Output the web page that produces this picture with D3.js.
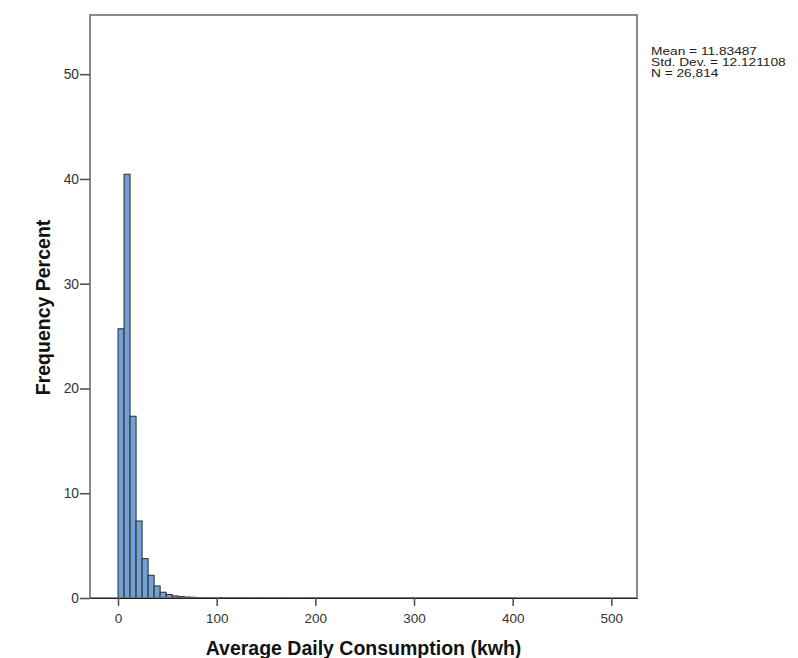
<!DOCTYPE html>
<html>
<head>
<meta charset="utf-8">
<script src="https://cdn.jsdelivr.net/npm/d3@7"></script>
<style>
  html, body { margin: 0; padding: 0; background: #fff; }
  svg { display: block; }
</style>
</head>
<body>
<svg id="chart" width="798" height="658"></svg>
<script>
// Histogram of average daily consumption (kWh), bin width ~6.1 kWh
const binWidth = 6.1;
const binPercent = [
  25.7, 40.45, 17.35, 7.35, 3.76, 2.17, 1.15, 0.55, 0.33, 0.2,
  0.13, 0.09, 0.07, 0.05, 0.04, 0.035, 0.03, 0.025, 0.02, 0.018,
  0.016, 0.014, 0.012, 0.011, 0.01, 0.01, 0.009, 0.008, 0.008, 0.007,
  0.007, 0.006, 0.006, 0.005, 0.005, 0.005, 0.004, 0.004, 0.004, 0.004,
  0.004, 0.003, 0.003, 0.003, 0.003, 0.003, 0.003, 0.003, 0.003, 0.003,
  0.003, 0.003, 0.003, 0.003, 0.003, 0.003, 0.003, 0.003, 0.003, 0.003,
  0.003, 0.003, 0.003, 0.003, 0.003, 0.003
];
const xTicks = [0, 100, 200, 300, 400, 500];
const yTicks = [0, 10, 20, 30, 40, 50];
const statLines = ["Mean = 11.83487", "Std. Dev. = 12.121108", "N = 26,814"];
const xTitle = "Average Daily Consumption (kwh)";
const yTitle = "Frequency Percent";

const svg = d3.select("#chart");
const frame = { left: 90, right: 637, top: 15, bottom: 598 };

const x = d3.scaleLinear().domain([-28.4, 526]).range([frame.left, frame.right]);
const y = d3.scaleLinear().domain([0, 55.65]).range([frame.bottom, frame.top]);

const font = "'Liberation Sans', Arial, sans-serif";

// Bars
const bins = binPercent.map((v, i) => ({ x0: i * binWidth, x1: (i + 1) * binWidth, v }));
svg.append("g")
  .selectAll("rect")
  .data(bins)
  .join("rect")
  .attr("x", d => x(d.x0))
  .attr("width", d => x(d.x1) - x(d.x0))
  .attr("y", d => y(d.v))
  .attr("height", d => y(0) - y(d.v))
  .attr("fill", "#72a1d6")
  .attr("stroke", "#2b2b2b")
  .attr("stroke-width", 1);

// Plot frame
svg.append("rect")
  .attr("x", frame.left)
  .attr("y", frame.top)
  .attr("width", frame.right - frame.left)
  .attr("height", frame.bottom - frame.top)
  .attr("fill", "none")
  .attr("stroke", "#6e6e6e")
  .attr("stroke-width", 1.6);

// X axis
const xAxis = svg.append("g")
  .attr("transform", `translate(0,${frame.bottom})`)
  .call(d3.axisBottom(x).tickValues(xTicks).tickSize(8).tickSizeOuter(0)
    .tickPadding(7).tickFormat(d3.format("d")));
xAxis.select(".domain").attr("stroke", "#222").attr("stroke-width", 1.2);
xAxis.selectAll(".tick line").attr("stroke", "#555").attr("stroke-width", 1.6);
xAxis.selectAll(".tick text").attr("font-family", font).attr("font-size", 13.5).attr("fill", "#333");

// Y axis
const yAxis = svg.append("g")
  .attr("transform", `translate(${frame.left},0)`)
  .call(d3.axisLeft(y).tickValues(yTicks).tickSize(10).tickSizeOuter(0)
    .tickPadding(1).tickFormat(d3.format("d")));
yAxis.select(".domain").remove();
yAxis.selectAll(".tick line").attr("stroke", "#555").attr("stroke-width", 1.6);
yAxis.selectAll(".tick text").attr("font-family", font).attr("font-size", 13.8).attr("fill", "#333");

// Axis titles
svg.append("text")
  .attr("x", (frame.left + frame.right) / 2)
  .attr("y", 655)
  .attr("text-anchor", "middle")
  .attr("font-family", font)
  .attr("font-weight", "bold")
  .attr("font-size", 19.5)
  .attr("fill", "#111")
  .text(xTitle);

svg.append("text")
  .attr("transform", `translate(49.5,${(frame.top + frame.bottom) / 2 + 1}) rotate(-90)`)
  .attr("text-anchor", "middle")
  .attr("font-family", font)
  .attr("font-weight", "bold")
  .attr("font-size", 19.5)
  .attr("fill", "#111")
  .text(yTitle);

// Summary statistics (slightly widened glyphs)
svg.append("g")
  .attr("transform", "translate(651,0) scale(1.27,1)")
  .selectAll("text")
  .data(statLines)
  .join("text")
  .attr("x", 0)
  .attr("y", (d, i) => 55 + i * 11.2)
  .attr("font-family", font)
  .attr("font-size", 10.8)
  .attr("fill", "#222")
  .text(d => d);
</script>
</body>
</html>
